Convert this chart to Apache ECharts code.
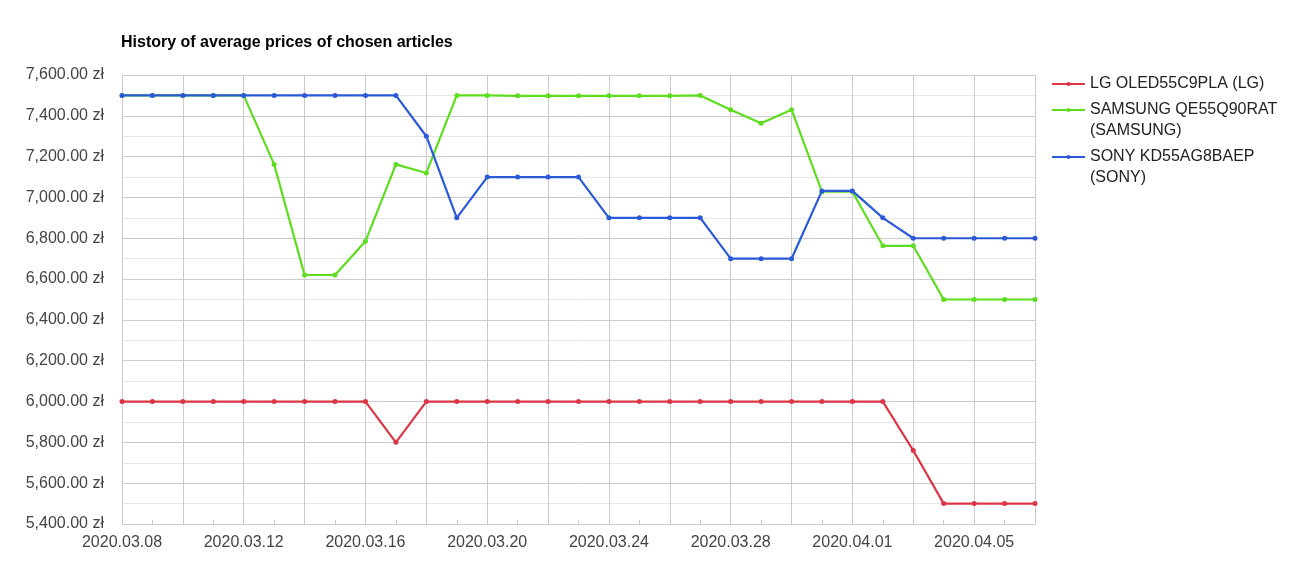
<!DOCTYPE html>
<html>
<head>
<meta charset="utf-8">
<script src="https://cdn.jsdelivr.net/npm/echarts@6/dist/echarts.min.js"></script>
<style>
html,body{margin:0;padding:0;background:#fff;}
#chart{width:1291px;height:562px;}
</style>
</head>
<body>
<div id="chart"></div>
<script>
const dates = ["2020.03.08","2020.03.09","2020.03.10","2020.03.11","2020.03.12","2020.03.13","2020.03.14","2020.03.15","2020.03.16","2020.03.17","2020.03.18","2020.03.19","2020.03.20","2020.03.21","2020.03.22","2020.03.23","2020.03.24","2020.03.25","2020.03.26","2020.03.27","2020.03.28","2020.03.29","2020.03.30","2020.03.31","2020.04.01","2020.04.02","2020.04.03","2020.04.04","2020.04.05","2020.04.06","2020.04.07"];
const seriesNames = ["LG OLED55C9PLA (LG)", "SAMSUNG QE55Q90RAT (SAMSUNG)", "SONY KD55AG8BAEP (SONY)"];
const legendLines = [["LG OLED55C9PLA (LG)"], ["SAMSUNG QE55Q90RAT", "(SAMSUNG)"], ["SONY KD55AG8BAEP", "(SONY)"]];
const lgValues = [6000,6000,6000,6000,6000,6000,6000,6000,6000,5800,6000,6000,6000,6000,6000,6000,6000,6000,6000,6000,6000,6000,6000,6000,6000,6000,5760,5500,5500,5500,5500];
const samsungValues = [7500,7500,7500,7500,7500,7162,6620,6620,6785,7162,7120,7500,7500,7498,7498,7498,7498,7498,7498,7500,7430,7364,7430,7028,7028,6763,6763,6500,6500,6500,6500];
const sonyValues = [7500,7500,7500,7500,7500,7500,7500,7500,7500,7500,7300,6900,7100,7100,7100,7100,6900,6900,6900,6900,6700,6700,6700,7032,7032,6900,6800,6800,6800,6800,6800];
const colors = ["#dc3545", "#5edc1f", "#2b5ad8"];

const chart = echarts.init(document.getElementById('chart'), null, {renderer: 'canvas'});
const FONT = "'Liberation Sans', Arial, sans-serif";

function fmtPrice(v){
  return v.toLocaleString('en-US', {minimumFractionDigits: 2, maximumFractionDigits: 2}) + ' zł';
}

// first-line centres of each legend entry (px from top)
const legendCentres = [84, 110, 157];
const LH = 21;
const legends = seriesNames.map((n, i) => {
  const lines = legendLines[i];
  // pad with blank lines on top so the first line sits at the icon centre
  const padded = lines.length > 1 ? [' '].concat(lines) : lines;
  const h = padded.length * LH;
  return {
    orient: 'vertical',
    left: 1051,
    top: legendCentres[i] - h / 2,
    padding: 0,
    itemWidth: 33,
    itemHeight: 5,
    data: [n],
    formatter: () => padded.join('\n'),
    textStyle: {fontFamily: FONT, fontSize: 16, color: '#222', lineHeight: LH},
    selectedMode: false
  };
});

const allValues = [lgValues, samsungValues, sonyValues];

chart.setOption({
  animation: false,
  title: {
    text: 'History of average prices of chosen articles',
    left: 121, top: 35, padding: 0,
    textStyle: {fontFamily: FONT, fontSize: 16, fontWeight: 'bold', color: '#000'}
  },
  legend: legends,
  grid: {left: 122, right: 256, top: 75, bottom: 38, containLabel: false},
  xAxis: {
    type: 'category',
    data: dates,
    boundaryGap: false,
    axisLine: {show: true, lineStyle: {color: '#cccccc', width: 1}},
    axisTick: {show: true, inside: true, length: 4, interval: 0, lineStyle: {color: '#cccccc'}},
    axisLabel: {interval: 3, margin: 11, fontFamily: FONT, fontSize: 16, color: '#444'},
    splitLine: {show: true, interval: 1, lineStyle: {color: '#cccccc', width: 1}}
  },
  yAxis: {
    type: 'value',
    min: 5400, max: 7600, interval: 200,
    axisLine: {show: true, lineStyle: {color: '#cccccc'}},
    axisTick: {show: false},
    axisLabel: {margin: 18, fontFamily: FONT, fontSize: 16, color: '#444', formatter: fmtPrice},
    splitLine: {show: true, lineStyle: {color: '#cccccc', width: 1}},
    minorTick: {show: false, splitNumber: 2},
    minorSplitLine: {show: true, lineStyle: {color: '#e6e6e6', width: 1}}
  },
  series: seriesNames.map((n, i) => ({
    name: n,
    type: 'line',
    data: allValues[i],
    color: colors[i],
    symbol: 'circle',
    symbolSize: 5,
    showSymbol: true,
    lineStyle: {width: 2.2, color: colors[i]},
    itemStyle: {color: colors[i]},
    z: 2 + i
  }))
});
</script>
</body>
</html>
